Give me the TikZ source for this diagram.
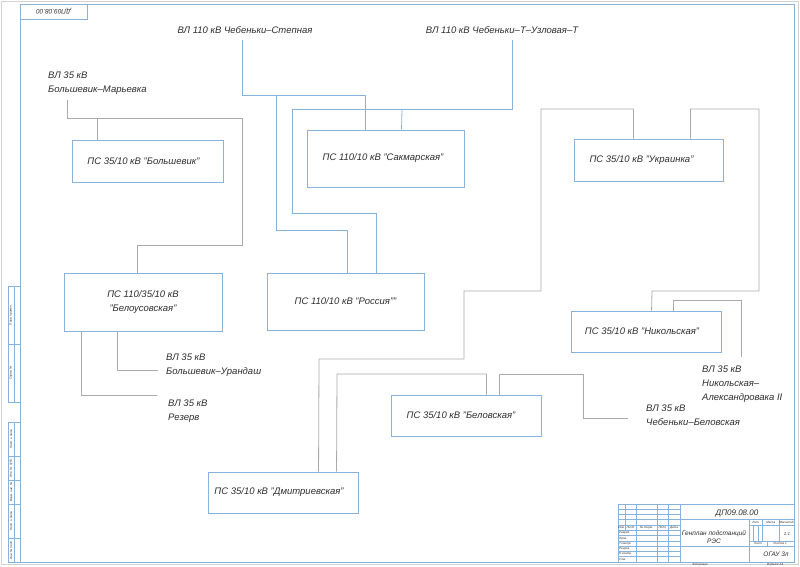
\documentclass[tikz,border=0pt]{standalone}
\usepackage{fontspec}
\setmainfont{Liberation Sans}
\definecolor{lnblue}{RGB}{135,178,220}
\definecolor{lngray}{RGB}{170,170,170}
\definecolor{txtc}{RGB}{45,45,45}
\newcommand\diaglbl{\fontsize{9.5}{14}\selectfont\itshape}
\newcommand\tinyfnt{\fontsize{3}{3.5}\selectfont\itshape}
\begin{document}
\begin{tikzpicture}[x=1pt,y=-1pt,
  box/.style={draw=lnblue, line width=0.9pt, inner sep=0pt, font=\diaglbl, text=txtc, align=center},
  bcon/.style={draw=lnblue, line width=0.8pt},
  gcon/.style={draw=lngray, line width=0.8pt},
  lab/.style={anchor=north west, inner sep=0pt, align=left, font=\diaglbl, text=txtc},
  frm/.style={draw=lnblue, line width=0.7pt},
  tinyt/.style={font=\tinyfnt, text=txtc, inner sep=0pt}]
\useasboundingbox (0,0) rectangle (800,566);
% sheet edge and frame
\draw[gray!35, line width=0.6pt] (1.5,1.5) rectangle (798,564.5);
\draw[frm] (20,4) rectangle (794,562);
% stamp top-left
\draw[frm] (20,4) rectangle (87,19);
\node[rotate=180, font=\fontsize{6.5}{7}\selectfont\itshape, text=txtc, inner sep=0pt] (stamp) at (53.5,11.5) {ДП09.08.00};
% left strip
\draw[frm] (8,286) rectangle (20,402);
\draw[frm] (14,286) -- (14,402);
\draw[frm] (8,344) -- (20,344);
\draw[frm] (8,422) rectangle (20,562);
\draw[frm] (14,422) -- (14,562);
\foreach \yy in {456,480,504,538} \draw[frm] (8,\yy) -- (20,\yy);
\node[tinyt, rotate=90] (s1t) at (11,315) {Перв. примен.};
\node[tinyt, rotate=90] (s2t) at (11,373) {Справ. №};
\node[tinyt, rotate=90] (s3t) at (11,439) {Подп. и дата};
\node[tinyt, rotate=90] (s4t) at (11,468) {Инв. № дубл.};
\node[tinyt, rotate=90] (s5t) at (11,492) {Взам. инв. №};
\node[tinyt, rotate=90] (s6t) at (11,521) {Подп. и дата};
\node[tinyt, rotate=90] (s7t) at (11,550) {Инв. № подл.};
% title block
\begin{scope}[frm]
\draw (618,504) -- (794,504);
\draw (618,504) -- (618,562);
\foreach \k in {1,...,10} \draw (618,{504+\k*5.273}) -- (680,{504+\k*5.273});
\draw (625,504) -- (625,530.4);
\foreach \xx in {636,657,668,680} \draw (\xx,504) -- (\xx,562);
\draw (680,519.8) -- (794,519.8);
\draw (749,519.8) -- (749,562);
\draw (749,525.1) -- (794,525.1);
\draw (749,540.9) -- (794,540.9);
\draw (680,546.2) -- (794,546.2);
\draw (762.5,519.8) -- (762.5,540.9);
\draw (779,519.8) -- (779,540.9);
\draw (753.5,525.1) -- (753.5,540.9);
\draw (758,525.1) -- (758,540.9);
\draw (767,540.9) -- (767,546.2);
\end{scope}
\node[font=\fontsize{8}{9}\selectfont\itshape, text=txtc, inner sep=0pt] (tcode) at (737,513) {ДП09.08.00};
\node[font=\fontsize{6.5}{8}\selectfont\itshape, text=txtc, inner sep=0pt, align=center] (ttitle) at (714,537) {Генплан подстанций\\РЭС};
\node[font=\fontsize{6.5}{8}\selectfont\itshape, text=txtc, inner sep=0pt] (torg) at (776,554) {ОГАУ 3л};
\node[font=\fontsize{4.5}{5}\selectfont\itshape, text=txtc, inner sep=0pt] (tscale) at (787,534) {1:1};
\node[tinyt] (h1) at (621.5,527.8) {Изм.};
\node[tinyt] (h2) at (630.5,527.8) {Лист};
\node[tinyt] (h3) at (646.5,527.8) {№ докум.};
\node[tinyt] (h4) at (662.5,527.8) {Подп.};
\node[tinyt] (h5) at (674,527.8) {Дата};
\node[tinyt, anchor=west] (r1) at (619,533) {Разраб.};
\node[tinyt, anchor=west] (r2) at (619,538.3) {Пров.};
\node[tinyt, anchor=west] (r3) at (619,543.5) {Т.контр.};
\node[tinyt, anchor=west] (r4) at (619,548.8) {Реценз.};
\node[tinyt, anchor=west] (r5) at (619,554.1) {Н.контр.};
\node[tinyt, anchor=west] (r6) at (619,559.4) {Утв.};
\node[tinyt] (q1) at (756,522.5) {Лит.};
\node[tinyt] (q2) at (770.8,522.5) {Масса};
\node[tinyt] (q3) at (786.5,522.5) {Масштаб};
\node[tinyt] (q4) at (758,543.5) {Лист};
\node[tinyt] (q5) at (780,543.5) {Листов 1};
\node[tinyt] (k1t) at (700,564.5) {Копировал};
\node[tinyt] (k2t) at (775,564.5) {Формат А3};
% substation boxes
\node[box, minimum width=151pt, minimum height=42pt] (bol) at (147.5,161) {ПС 35/10 кВ "Большевик"\hspace*{8pt}};
\node[box, minimum width=158pt, minimum height=58pt] (bel) at (143,302) {ПС 110/35/10 кВ\\"Белоусовская"};
\node[box, minimum width=157pt, minimum height=57pt] (sak) at (385.5,158.5) {ПС 110/10 кВ "Сакмарская"\hspace*{5pt}};
\node[box, minimum width=157pt, minimum height=57pt] (ros) at (345.5,301.5) {ПС 110/10 кВ "Россия""};
\node[box, minimum width=149pt, minimum height=42pt] (ukr) at (648.5,160) {ПС 35/10 кВ "Украинка"\hspace*{14pt}};
\node[box, minimum width=150pt, minimum height=41pt] (nik) at (646,331.5) {ПС 35/10 кВ "Никольская"\hspace*{8pt}};
\node[box, minimum width=150pt, minimum height=41pt] (belov) at (466,415.5) {ПС 35/10 кВ "Беловская"\hspace*{10pt}};
\node[box, minimum width=150pt, minimum height=41pt] (dmi) at (283,492.5) {ПС 35/10 кВ "Дмитриевская"\hspace*{8pt}};
% line labels
\node[lab] (bm) at (48,71.5) {ВЛ 35 кВ\\Большевик–Марьевка};
\node[lab] (ur) at (166,353.5) {ВЛ 35 кВ\\Большевик–Урандаш};
\node[lab] (rz) at (168,399.5) {ВЛ 35 кВ\\Резерв};
\node[lab] (nk) at (702,365.5) {ВЛ 35 кВ\\Никольская–\\Александровака II};
\node[lab] (cb) at (646,404.5) {ВЛ 35 кВ\\Чебеньки–Беловская};
\node[lab, anchor=center] (stp) at (245,30) {ВЛ 110 кВ Чебеньки–Степная};
\node[lab, anchor=center] (uzl) at (502,30) {ВЛ 110 кВ Чебеньки–Т–Узловая–Т};
% connector waypoints
\coordinate (bmEnd) at (67,100);
\coordinate (c1) at (242,118);
\coordinate (c2) at (242,245);
\coordinate (urEnd) at (158,370);
\coordinate (rzEnd) at (157,395);
\coordinate (stpEnd) at (242,40);
\coordinate (p1) at (242,95);
\coordinate (p2) at (276,95);
\coordinate (p3) at (276,230);
\coordinate (uzlEnd) at (512,40);
\coordinate (u1) at (512,109);
\coordinate (u2) at (292,109);
\coordinate (u3) at (292,213);
\coordinate (u4) at (402,109);
\coordinate (w1) at (541,109);
\coordinate (w2) at (464,291);
\coordinate (w3) at (319,359);
\coordinate (w4) at (759,109);
\coordinate (w5) at (652,291);
\coordinate (n1) at (741,300);
\coordinate (nkEnd) at (741,357);
\coordinate (v1) at (337,374);
\coordinate (v2) at (583,374);
\coordinate (cbEnd) at (628,418);
% 35 kV connectors (gray)
\draw[gcon] (bmEnd) |- (c1) -- (c2) -| ([xshift=74pt]bel.north west);
\draw[gcon] ([xshift=26pt]bol.north west) |- (c1);
\draw[gcon] ([xshift=54pt]bel.south west) |- (urEnd);
\draw[gcon] ([xshift=18pt]bel.south west) |- (rzEnd);
\draw[gcon] ([xshift=60pt]ukr.north west) |- (w1) |- (w2) |- (w3) -- ([xshift=111pt]dmi.north west);
\draw[gcon] ([xshift=117pt]ukr.north west) |- (w4) |- (w5) -- ([xshift=81pt]nik.north west);
\draw[gcon] ([xshift=103pt]nik.north west) |- (n1) -- (nkEnd);
\draw[gcon] ([xshift=96pt]belov.north west) |- (v1) -- ([xshift=129pt]dmi.north west);
\draw[gcon] ([xshift=109pt]belov.north west) |- (v2) |- (cbEnd);
% 110 kV connectors (blue)
\draw[bcon] (stpEnd) -- (p1) -| ([xshift=59pt]sak.north west);
\draw[bcon] (p2) -- (p3) -| ([xshift=81pt]ros.north west);
\draw[bcon] (uzlEnd) -- (u1) -- (u2) -- (u3) -| ([xshift=110pt]ros.north west);
\draw[bcon] (u4) -- ([xshift=95pt]sak.north west);
\end{tikzpicture}
\end{document}
